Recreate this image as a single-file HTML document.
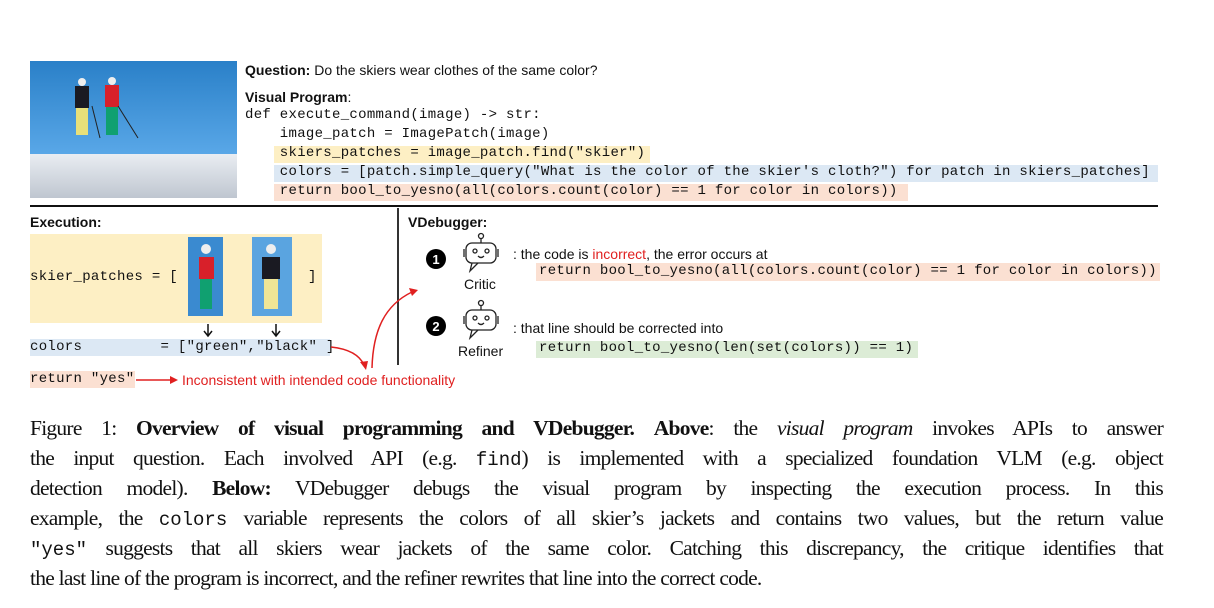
<!DOCTYPE html>
<html><head><meta charset="utf-8"><style>
body{margin:0;background:#fff;width:1214px;height:608px;position:relative;overflow:hidden;font-family:"Liberation Sans",sans-serif;}
.a{position:absolute;white-space:pre;}
.m{font-family:"Liberation Mono",monospace;font-size:14px;letter-spacing:0.3px;color:#111;}
.s{font-size:14px;color:#111;}
.hl{position:absolute;}
.cap{position:absolute;left:30px;width:1133px;font-family:"Liberation Serif",serif;font-size:21.5px;letter-spacing:-0.75px;color:#111;text-align:justify;text-align-last:justify;white-space:nowrap;height:30px;line-height:30px;}
.cm{font-family:"Liberation Mono",monospace;font-size:19px;letter-spacing:0;}
</style></head><body>
<svg class="a" style="left:30px;top:61px" width="207" height="137">
<defs><linearGradient id="sky" x1="0" y1="0" x2="0" y2="1"><stop offset="0" stop-color="#2a80c8"/><stop offset="1" stop-color="#5aa8e8"/></linearGradient>
<linearGradient id="snow" x1="0" y1="0" x2="0" y2="1"><stop offset="0" stop-color="#e9edf2"/><stop offset="1" stop-color="#bfc6d0"/></linearGradient></defs>
<rect width="207" height="95" fill="url(#sky)"/>
<rect y="93" width="207" height="44" fill="url(#snow)"/>
<rect x="45" y="25" width="14" height="22" fill="#1a1a22"/><rect x="46" y="47" width="12" height="27" fill="#e8e07a"/><circle cx="52" cy="21" r="4" fill="#eee"/>
<rect x="75" y="24" width="14" height="22" fill="#d8202a"/><rect x="76" y="46" width="12" height="28" fill="#10a070"/><circle cx="82" cy="20" r="4" fill="#eee"/>
<line x1="88" y1="45" x2="108" y2="77" stroke="#222"/><line x1="62" y1="45" x2="70" y2="77" stroke="#222"/>
</svg>
<div class="a s" style="left:245px;top:62px"><b>Question:</b> Do the skiers wear clothes of the same color?</div>
<div class="a s" style="left:245px;top:89px"><b>Visual Program</b>:</div>
<div class="hl" style="left:274px;top:146px;width:376px;height:17px;background:#fdefc4"></div>
<div class="hl" style="left:274px;top:165px;width:884px;height:17px;background:#dce8f4"></div>
<div class="hl" style="left:274px;top:184px;width:634px;height:17px;background:#fbe0d2"></div>
<div class="a m" style="left:245px;top:106px;line-height:19px">def execute_command(image) -&gt; str:
    image_patch = ImagePatch(image)
    skiers_patches = image_patch.find("skier")
    colors = [patch.simple_query("What is the color of the skier's cloth?") for patch in skiers_patches]
    return bool_to_yesno(all(colors.count(color) == 1 for color in colors))</div>
<div class="hl" style="left:30px;top:205px;width:1128px;height:2px;background:#111"></div>
<div class="hl" style="left:397px;top:208px;width:2px;height:157px;background:#333"></div>
<div class="a s" style="left:30px;top:214px"><b>Execution:</b></div>
<div class="hl" style="left:30px;top:234px;width:292px;height:89px;background:#fdefc4"></div>
<div class="a m" style="left:30px;top:269px">skier_patches = [</div>
<div class="a m" style="left:308px;top:269px">]</div>
<svg class="a" style="left:188px;top:237px" width="106" height="80">
<rect width="35" height="79" fill="#3a8ad0"/><rect x="11" y="20" width="15" height="22" fill="#d8202a"/><rect x="12" y="42" width="12" height="30" fill="#10a070"/><circle cx="18" cy="12" r="5" fill="#eee"/>
<rect x="64" width="40" height="79" fill="#5aa4e0"/><rect x="74" y="20" width="18" height="22" fill="#1a1a22"/><rect x="76" y="42" width="14" height="30" fill="#efe596"/><circle cx="83" cy="12" r="5" fill="#eee"/>
</svg>
<svg class="a" style="left:200px;top:323px" width="90" height="15"><path d="M8 1V12M4 8L8 13L12 8M76 1V12M72 8L76 13L80 8" stroke="#111" stroke-width="1.5" fill="none"/></svg>
<div class="hl" style="left:30px;top:339px;width:300px;height:17px;background:#dce8f4"></div>
<div class="a m" style="left:30px;top:339px">colors         = ["green","black" ]</div>
<div class="hl" style="left:30px;top:371px;width:105px;height:17px;background:#fbe0d2"></div>
<div class="a m" style="left:30px;top:371px">return "yes"</div>
<div class="a" style="left:182px;top:372px;font-size:14px;color:#e02020">Inconsistent with intended code functionality</div>
<svg class="a" style="left:0;top:0" width="1214" height="608">
<path d="M136 380H172" stroke="#e02020" stroke-width="1.5"/><path d="M178 380L170 376V384Z" fill="#e02020"/>
<path d="M331 347C350 349 360 356 364 365" stroke="#e02020" stroke-width="1.5" fill="none"/><path d="M366 370L360 362L368 361Z" fill="#e02020"/>
<path d="M372 368C373 330 385 305 412 292" stroke="#e02020" stroke-width="1.5" fill="none"/><path d="M418 290L409 288L412 296Z" fill="#e02020"/>
<circle cx="436" cy="259" r="10" fill="#000"/><circle cx="436" cy="326" r="10" fill="#000"/>
<text x="436" y="264" fill="#fff" font-size="13" font-weight="bold" text-anchor="middle" font-family="Liberation Sans">1</text>
<text x="436" y="331" fill="#fff" font-size="13" font-weight="bold" text-anchor="middle" font-family="Liberation Sans">2</text>
<g fill="none" stroke="#222" stroke-width="1.3">
<g transform="translate(460,233)"><circle cx="21" cy="3" r="2.5"/><path d="M21 6V10"/><rect x="6" y="10" width="30" height="20" rx="6"/><path d="M12 30L10 38L18 30"/><circle cx="15" cy="18" r="2"/><circle cx="27" cy="18" r="2"/><path d="M18 23Q21 26 24 23"/><path d="M4 16V24M38 16V24"/></g>
<g transform="translate(460,300)"><circle cx="21" cy="3" r="2.5"/><path d="M21 6V10"/><rect x="6" y="10" width="30" height="20" rx="6"/><path d="M12 30L10 38L18 30"/><circle cx="15" cy="18" r="2"/><circle cx="27" cy="18" r="2"/><path d="M18 23Q21 26 24 23"/><path d="M4 16V24M38 16V24"/></g>
</g>
</svg>
<div class="a s" style="left:408px;top:214px"><b>VDebugger:</b></div>
<div class="a s" style="left:464px;top:276px">Critic</div>
<div class="a s" style="left:458px;top:343px">Refiner</div>
<div class="a s" style="left:513px;top:246px">: the code is <span style="color:#e02020">incorrect</span>, the error occurs at</div>
<div class="hl" style="left:536px;top:263px;width:624px;height:18px;background:#fbe0d2"></div>
<div class="a m" style="left:539px;top:263px">return bool_to_yesno(all(colors.count(color) == 1 for color in colors))</div>
<div class="a s" style="left:513px;top:320px">: that line should be corrected into</div>
<div class="hl" style="left:536px;top:341px;width:382px;height:17px;background:#dcecd6"></div>
<div class="a m" style="left:539px;top:340px">return bool_to_yesno(len(set(colors)) == 1)</div>
<div class="cap" style="top:413px">Figure 1: <b>Overview of visual programming and VDebugger.</b> <b>Above</b>: the <i>visual program</i> invokes APIs to answer</div>
<div class="cap" style="top:443px">the input question. Each involved API (e.g. <span class="cm">find</span>) is implemented with a specialized foundation VLM (e.g. object</div>
<div class="cap" style="top:473px">detection model). <b>Below:</b> VDebugger debugs the visual program by inspecting the execution process. In this</div>
<div class="cap" style="top:503px">example, the <span class="cm">colors</span> variable represents the colors of all skier’s jackets and contains two values, but the return value</div>
<div class="cap" style="top:533px"><span class="cm">"yes"</span> suggests that all skiers wear jackets of the same color. Catching this discrepancy, the critique identifies that</div>
<div class="cap" style="top:563px;text-align-last:left">the last line of the program is incorrect, and the refiner rewrites that line into the correct code.</div>
</body></html>
